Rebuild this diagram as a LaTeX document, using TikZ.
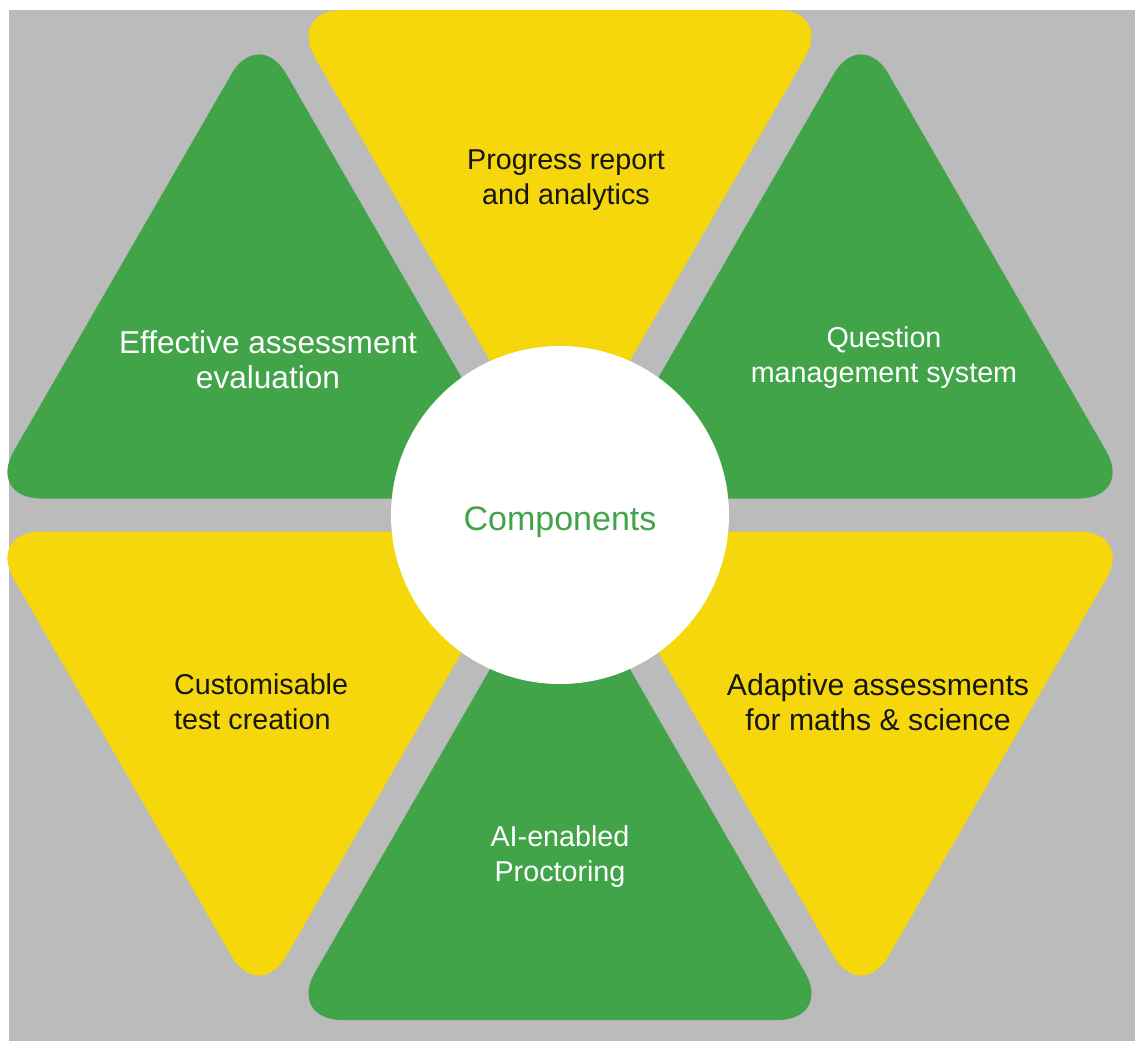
\documentclass[tikz,border=0pt]{standalone}
\usepackage{fontspec}
\setmainfont{Liberation Sans}
\definecolor{tri green}{HTML}{41A448}
\definecolor{tri yellow}{HTML}{F5D70C}
\definecolor{back gray}{HTML}{BBBBBB}
\definecolor{dark text}{HTML}{161616}

\begin{document}
\begin{tikzpicture}[x=1pt,y=-1pt,
  green tri/.style={fill=tri green,rounded corners=55pt},
  yellow tri/.style={fill=tri yellow,rounded corners=55pt},
  tri text/.style={align=center,inner sep=0pt,font=\fontsize{28.7}{35}\selectfont},
  on green/.style={tri text,text=white},
  on yellow/.style={tri text,text=dark text},
  hub node/.style={circle,fill=white,inner sep=0pt,minimum size=338pt}]
  \useasboundingbox (0,0) rectangle (1135,1041);
  \fill[back gray] (9,10) rectangle (1135,1041);

  % six triangles round the hub
  \fill[yellow tri] (560,482) -- (287.5,10) -- (832.5,10) -- cycle;
  \fill[green tri] (588.6,498.5) -- (861.1,26.5) -- (1133.6,498.5) -- cycle;
  \fill[yellow tri] (588.6,531.5) -- (1133.6,531.5) -- (861.1,1003.5) -- cycle;
  \fill[green tri] (560,548) -- (832.5,1020) -- (287.5,1020) -- cycle;
  \fill[yellow tri] (531.4,531.5) -- (258.9,1003.5) -- (-13.6,531.5) -- cycle;
  \fill[green tri] (531.4,498.5) -- (-13.6,498.5) -- (258.9,26.5) -- cycle;

  \node[hub node] (0) at (560,515) {};
  \node[tri text,text=tri green,font=\fontsize{34}{40}\selectfont] (7) at (560,522) {Components};

  \node[on yellow] (1) at (566,180) {Progress report\\and analytics};
  \node[on green] (2) at (884,358) {Question\\management system};
  \node[on yellow,font=\fontsize{30.2}{35}\selectfont] (3) at (878,702) {Adaptive assessments\\for maths \& science};
  \node[on green] (4) at (560,857) {AI-enabled\\Proctoring};
  \node[on yellow,align=left,anchor=west] (5) at (174,702) {Customisable\\test creation};
  \node[on green,font=\fontsize{31.6}{35}\selectfont] (6) at (268,360) {Effective assessment\\evaluation};
\end{tikzpicture}
\end{document}
